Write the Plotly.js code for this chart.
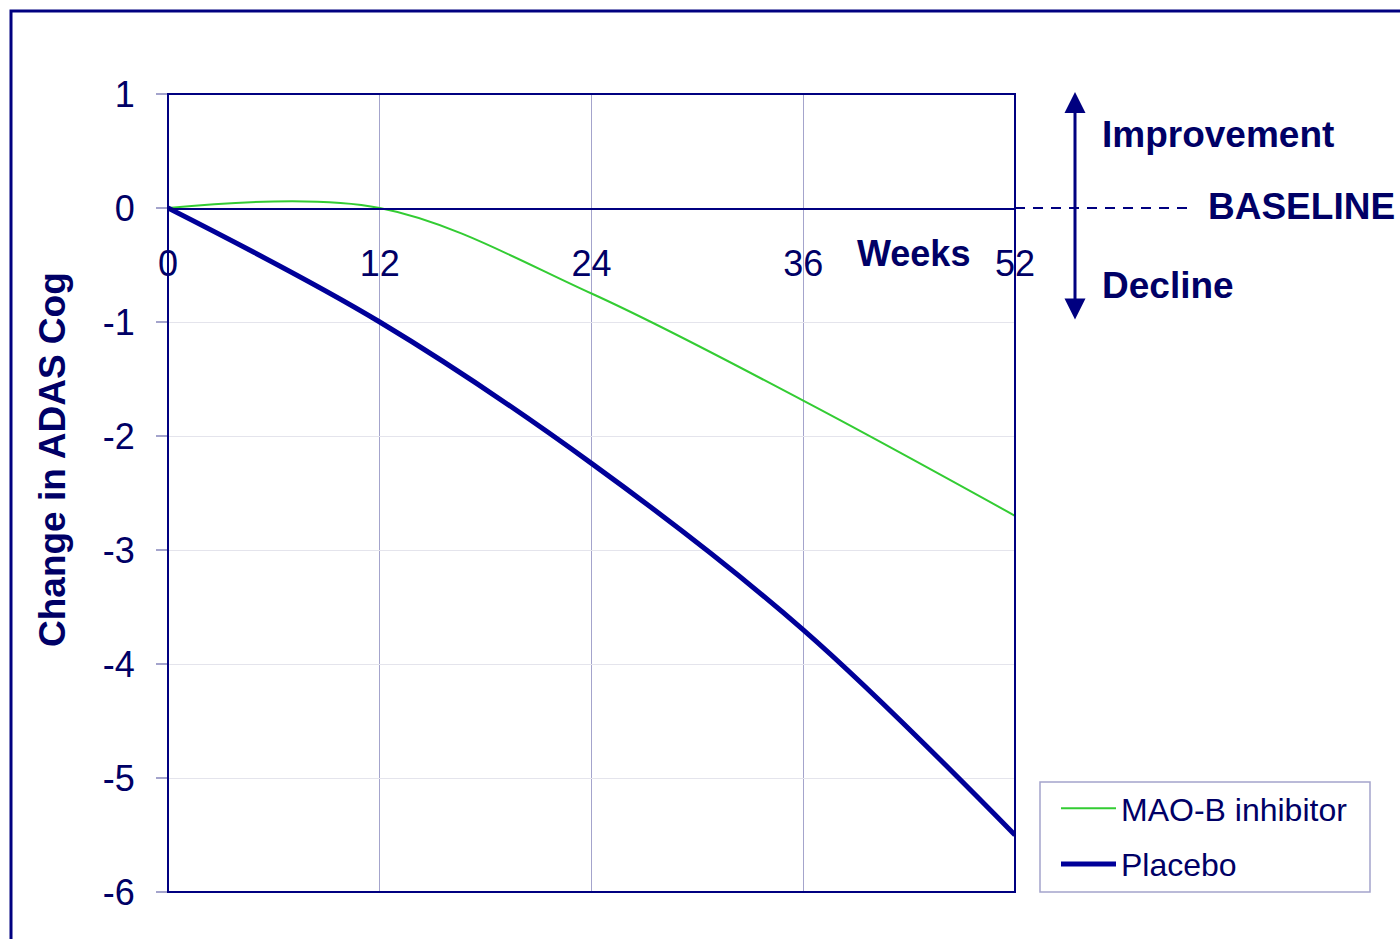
<!DOCTYPE html>
<html>
<head>
<meta charset="utf-8">
<script src="https://cdn.plot.ly/plotly-3.0.1.min.js"></script>
<style>html,body{margin:0;padding:0;background:#fff;}#chart{width:1400px;height:939px;}</style>
</head>
<body>
<div id="chart"></div>
<script>
const weeks = ['0', '12', '24', '36', '52'];
const maoB = [0, 0, -0.75, -1.69, -2.70];
const placebo = [0, -1.0, -2.24, -3.70, -5.50];
const yTicks = [1, 0, -1, -2, -3, -4, -5, -6];

const FONT = 'Arial, "Liberation Sans", sans-serif';
const NAVY = '#000080';
const TXT = '#000066';

const W = 1400, H = 939;
const L = 168, R = 1015, T = 94, B = 892;
const px = x => (x - L) / (R - L);
const py = y => (B - y) / (B - T);

const traces = [
  {x: weeks, y: maoB, name: 'MAO-B inhibitor', type: 'scatter', mode: 'lines',
   line: {color: '#33cc33', width: 2, shape: 'spline', smoothing: 1}, legendgroup: 'a'},
  {x: weeks, y: placebo, name: 'Placebo', type: 'scatter', mode: 'lines',
   line: {color: '#000099', width: 5, shape: 'spline', smoothing: 1}, legendgroup: 'b'}
];

const layout = {
  width: W, height: H,
  margin: {l: L, r: W - R, t: T, b: H - B},
  paper_bgcolor: '#fff', plot_bgcolor: '#fff',
  font: {family: FONT, color: TXT, size: 32},
  showlegend: true,
  legend: {x: px(1056), y: py(781), xanchor: 'left', yanchor: 'top',
    bordercolor: 'rgba(0,0,0,0)', borderwidth: 0, bgcolor: 'rgba(0,0,0,0)',
    font: {family: FONT, size: 32, color: TXT}, itemwidth: 55,
    traceorder: 'grouped', tracegroupgap: 11},
  xaxis: {type: 'category', range: [0, 4], anchor: 'free', position: py(208),
    showline: true, linecolor: NAVY, linewidth: 1.5,
    showgrid: true, gridcolor: '#a4a4cc', gridwidth: 1,
    ticks: '', ticklabelstandoff: 23, zeroline: false,
    tickfont: {family: FONT, size: 36, color: TXT}},
  yaxis: {range: [-6, 1], tickvals: yTicks, ticktext: yTicks.map(String),
    showline: false, zeroline: false,
    showgrid: true, gridcolor: '#e4e4ec', gridwidth: 1,
    ticks: 'outside', ticklen: 11, tickcolor: '#a4a4cc', tickwidth: 1.5,
    ticklabelstandoff: 14,
    tickfont: {family: FONT, size: 36, color: TXT}},
  shapes: [
    {type: 'rect', xref: 'paper', yref: 'paper', x0: 0, x1: 1, y0: 0, y1: 1,
     line: {color: NAVY, width: 2}, layer: 'above'},
    {type: 'line', xref: 'paper', yref: 'y', x0: 1, x1: px(1195), y0: 0, y1: 0,
     line: {color: NAVY, width: 2, dash: '10px,8px'}},
    {type: 'rect', xref: 'paper', yref: 'paper', x0: px(11), x1: px(1430), y0: py(11), y1: py(960),
     line: {color: NAVY, width: 3}},
    {type: 'rect', xref: 'paper', yref: 'paper', x0: px(1040), x1: px(1370), y0: py(892), y1: py(782),
     line: {color: '#a4a4cc', width: 1.5}}
  ],
  annotations: [
    {text: '<b>Change in ADAS Cog</b>', xref: 'paper', yref: 'paper', x: px(52), y: py(460),
     textangle: -90, showarrow: false, font: {family: FONT, size: 37, color: TXT},
     xanchor: 'center', yanchor: 'middle'},
    {text: '<b>Weeks</b>', xref: 'paper', yref: 'paper', x: px(913), y: py(253),
     showarrow: false, font: {family: FONT, size: 36, color: TXT}, xanchor: 'center', yanchor: 'middle'},
    {text: '<b>Improvement</b>', xref: 'paper', yref: 'paper', x: px(1100), y: py(135),
     showarrow: false, font: {family: FONT, size: 37, color: TXT}, xanchor: 'left', yanchor: 'middle'},
    {text: '<b>BASELINE</b>', xref: 'paper', yref: 'paper', x: px(1206), y: py(207),
     showarrow: false, font: {family: FONT, size: 37, color: TXT}, xanchor: 'left', yanchor: 'middle'},
    {text: '<b>Decline</b>', xref: 'paper', yref: 'paper', x: px(1100), y: py(285),
     showarrow: false, font: {family: FONT, size: 37, color: TXT}, xanchor: 'left', yanchor: 'middle'},
    {text: '', xref: 'paper', yref: 'paper', x: px(1075), y: py(92),
     axref: 'paper', ayref: 'paper', ax: px(1075), ay: py(321),
     showarrow: true, arrowhead: 2, arrowside: 'end+start', arrowsize: 1.4, arrowwidth: 3,
     arrowcolor: NAVY, standoff: 0, startstandoff: 0}
  ]
};

Plotly.newPlot('chart', traces, layout, {displayModeBar: false, staticPlot: true});
</script>
</body>
</html>
